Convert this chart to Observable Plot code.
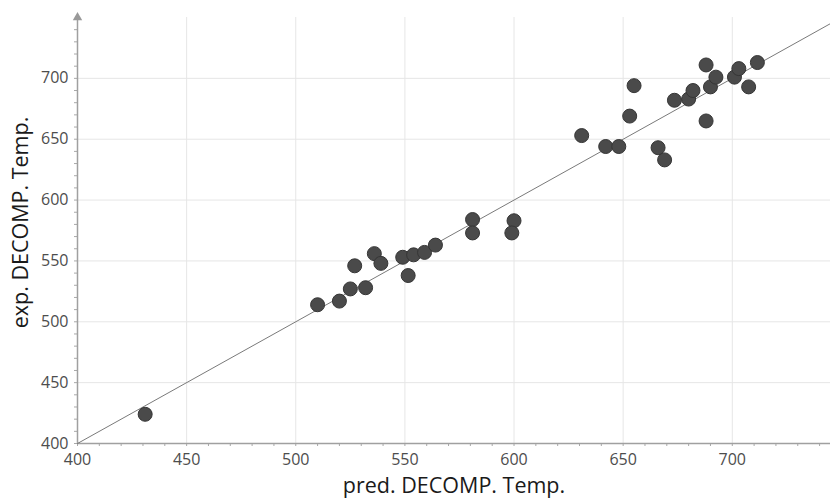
<!DOCTYPE html>
<html>
<head>
<meta charset="utf-8">
<script src="https://cdn.jsdelivr.net/npm/d3@7"></script>
<script src="https://cdn.jsdelivr.net/npm/@observablehq/plot@0.6"></script>
<style>
  html, body { margin: 0; padding: 0; background: #fff; }
  #chart svg { display: block; }
</style>
</head>
<body>
<div id="chart"></div>
<script>
// Data
const predicted = [431, 510, 520, 525, 527, 532, 536, 539, 549, 551.5, 554, 559, 564, 581, 581, 600, 599,
  631, 642, 648, 653, 655, 666, 669, 673.5, 680, 682, 688, 688, 690, 692.5, 701, 703, 707.5, 711.5];
const experimental = [424, 514, 517, 527, 546, 528, 556, 548, 553, 538, 555, 557, 563, 584, 573, 583, 573,
  653, 644, 644, 669, 694, 643, 633, 682, 683, 690, 711, 665, 693, 701, 701, 708, 693, 713];
const majorTicks = [400, 450, 500, 550, 600, 650, 700];
const minorTicks = d3.range(400, 750, 10);
const xDomain = [400, 745];
const yDomain = [400, 750];
const xLabel = "pred. DECOMP. Temp.";
const yLabel = "exp. DECOMP. Temp.";

const points = predicted.map((p, i) => ({pred: p, exp: experimental[i]}));
const diagonal = [xDomain[0], xDomain[1]];
const gridTicks = majorTicks.filter(t => t > 400);

const chart = Plot.plot({
  width: 830,
  height: 499,
  marginLeft: 77,
  marginRight: 0,
  marginTop: 17,
  marginBottom: 56,
  style: {fontFamily: "'Open Sans', sans-serif", background: "#fff"},
  x: {domain: xDomain, axis: null},
  y: {domain: yDomain, axis: null},
  marks: [
    Plot.gridX(gridTicks, {stroke: "#e6e6e6", strokeOpacity: 1}),
    Plot.gridY(gridTicks, {stroke: "#e6e6e6", strokeOpacity: 1}),
    Plot.axisX(minorTicks, {tickSize: 3, text: null, label: null, stroke: "#a8a8a8", tickPadding: 0}),
    Plot.axisY(minorTicks, {tickSize: 3, text: null, label: null, stroke: "#a8a8a8", tickPadding: 0}),
    Plot.axisX(majorTicks, {tickSize: 0, tickPadding: 10, fontSize: 16, fill: "#4d4d4d", label: null}),
    Plot.axisY(majorTicks, {tickSize: 0, tickPadding: 9, fontSize: 16, fill: "#4d4d4d", label: null}),
    Plot.ruleY([yDomain[0]], {stroke: "#a0a0a0", strokeWidth: 1.5}),
    Plot.ruleX([xDomain[0]], {stroke: "#a0a0a0", strokeWidth: 1.5}),
    Plot.dot([yDomain[1]], {x: () => xDomain[0], y: d => d, symbol: "triangle", r: 3.5, fill: "#999", stroke: "none"}),
    Plot.line(diagonal, {x: d => d, y: d => d, stroke: "#7a7a7a", strokeWidth: 1}),
    Plot.dot(points, {x: "pred", y: "exp", r: 7, fill: "#4a4a4a", stroke: "#363636", strokeWidth: 1}),
    Plot.text([xLabel], {frameAnchor: "bottom", textAnchor: "middle", lineAnchor: "middle", text: d => d, dy: 42.5, fontSize: 21.5, fill: "#1a1a1a"}),
    Plot.text([yLabel], {frameAnchor: "left", textAnchor: "middle", lineAnchor: "middle", text: d => d, rotate: -90, dx: -56, dy: -8, fontSize: 21.5, fill: "#1a1a1a"})
  ]
});
document.getElementById("chart").appendChild(chart);
</script>
</body>
</html>
